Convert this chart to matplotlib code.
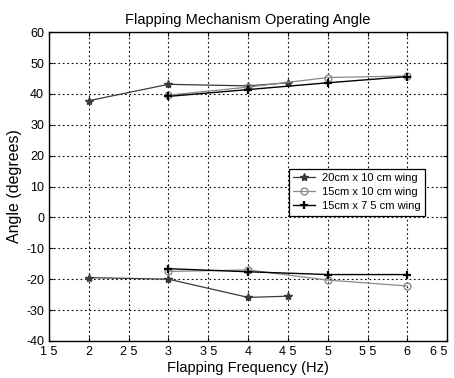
import matplotlib.pyplot as plt

plt.rcParams['font.family'] = ['Liberation Sans', 'DejaVu Sans']
plt.rcParams['axes.unicode_minus'] = False

# flapping frequencies (Hz) and measured angle limits (degrees)
freq_20x10 = [2, 3, 4, 4.5]
upper_20x10 = [37.8, 43.1, 42.6, 43.6]
lower_20x10 = [-19.5, -20.0, -25.9, -25.5]

freq_15x10 = [3, 4, 5, 6]
upper_15x10 = [39.6, 42.2, 45.3, 45.8]
lower_15x10 = [-17.5, -17.0, -20.3, -22.2]

freq_15x75 = [3, 4, 5, 6]
upper_15x75 = [39.2, 41.4, 43.6, 45.6]
lower_15x75 = [-16.6, -17.6, -18.5, -18.5]

labels = ['20cm x 10 cm wing', '15cm x 10 cm wing', '15cm x 7 5 cm wing']
xticks = [1.5, 2, 2.5, 3, 3.5, 4, 4.5, 5, 5.5, 6, 6.5]
xtick_labels = ['1 5', '2', '2 5', '3', '3 5', '4', '4 5', '5', '5 5', '6', '6 5']

fig = plt.figure(figsize=(4.54, 3.78), dpi=100)
ax = fig.add_axes([0.108, 0.098, 0.877, 0.817])

s1 = dict(color='#3a3a3a', marker='*', ms=6, lw=0.9)
s2 = dict(color='#8a8a8a', marker='o', ms=5, mfc='none', lw=0.9)
s3 = dict(color='black', marker='+', ms=6, mew=1.6, lw=1.0)

l1, = ax.plot(freq_20x10, upper_20x10, **s1)
ax.plot(freq_20x10, lower_20x10, **s1)
l2, = ax.plot(freq_15x10, upper_15x10, **s2)
ax.plot(freq_15x10, lower_15x10, **s2)
l3, = ax.plot(freq_15x75, upper_15x75, **s3)
ax.plot(freq_15x75, lower_15x75, **s3)

ax.set_xlim(1.5, 6.5)
ax.set_ylim(-40, 60)
ax.set_xticks(xticks)
ax.set_xticklabels(xtick_labels)
ax.get_xticklabels()[-1].set_horizontalalignment('right')
ax.set_yticks(range(-40, 61, 10))
ax.grid(True, color='black', linestyle=(0, (1.5, 2.5)), linewidth=0.8)
ax.tick_params(direction='in', top=True, right=True, labelsize=9, length=3)
for sp in ax.spines.values():
    sp.set_linewidth(1.0)

ax.set_title('Flapping Mechanism Operating Angle', fontsize=10.5, pad=6)
ax.set_xlabel('Flapping Frequency (Hz)', fontsize=10.5, labelpad=2)
ax.set_ylabel('Angle (degrees)', fontsize=11.5, labelpad=3)

leg = ax.legend([l1, l2, l3], labels, loc='upper left',
                bbox_to_anchor=(0.588, 0.575), fontsize=8, fancybox=False,
                edgecolor='black', framealpha=1, handlelength=2.0,
                borderpad=0.4, labelspacing=0.35, handletextpad=0.6)
leg.get_frame().set_linewidth(0.9)

fig.savefig('out.png', dpi=100)
